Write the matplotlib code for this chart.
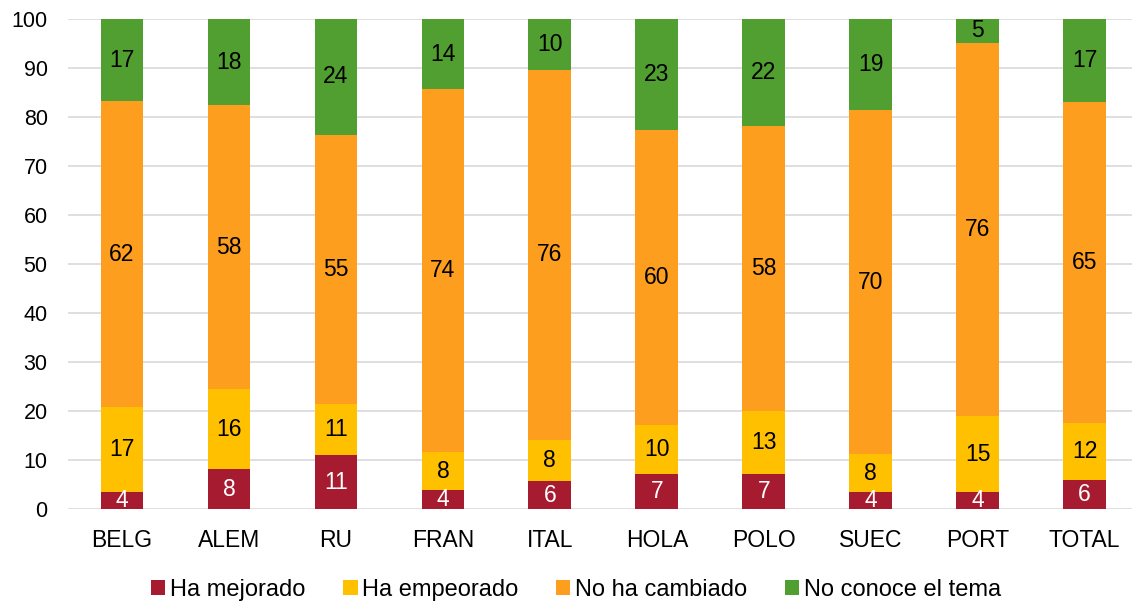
import numpy as np
import matplotlib.pyplot as plt

plt.rcParams['font.family'] = ['Liberation Sans', 'DejaVu Sans']

# Percentages per country
countries = ['BELG', 'ALEM', 'RU', 'FRAN', 'ITAL', 'HOLA', 'POLO', 'SUEC', 'PORT', 'TOTAL']
mejorado = [3.6, 8.2, 11.0, 3.9, 5.8, 7.3, 7.3, 3.6, 3.6, 6.0]
empeorado = [17.2, 16.3, 10.6, 7.8, 8.3, 9.9, 12.8, 7.6, 15.4, 11.7]
no_cambiado = [62.4, 57.9, 54.8, 74.0, 75.6, 60.1, 58.2, 70.2, 76.2, 65.4]
no_conoce = [16.8, 17.6, 23.6, 14.3, 10.3, 22.7, 21.7, 18.6, 4.8, 16.9]

series = [
    ('Ha mejorado', mejorado, '#A61B2F', 'white'),
    ('Ha empeorado', empeorado, '#FFC000', 'black'),
    ('No ha cambiado', no_cambiado, '#FD9E1E', 'black'),
    ('No conoce el tema', no_conoce, '#519E31', 'black'),
]

fig = plt.figure(figsize=(11.32, 6.05), dpi=100)
ax = fig.add_axes([0.0605, 0.158, 0.945, 0.8104])

x = np.arange(len(countries))
bottom = np.zeros(len(countries))
for name, vals, color, tcolor in series:
    vals = np.array(vals)
    ax.bar(x, vals, width=0.4, bottom=bottom, color=color, label=name, zorder=2)
    for xi, b, v in zip(x, bottom, vals):
        ax.text(xi, b + v / 2, '%.0f' % v, ha='center', va='center',
                fontsize=16.5, color=tcolor, zorder=3)
    bottom += vals

ax.set_xlim(-0.5, len(countries) - 0.5)
ax.set_ylim(0, 100)
ax.set_yticks(np.arange(0, 101, 10))
ax.set_xticks(x)
ax.set_xticklabels(countries)
ax.grid(axis='y', color='#D9D9D9', linewidth=1.2, zorder=0)
ax.set_axisbelow(True)
for s in ax.spines.values():
    s.set_visible(False)
ax.tick_params(axis='both', length=0)
ax.tick_params(axis='y', pad=15, labelsize=15.5)
ax.tick_params(axis='x', pad=14, labelsize=16.5)

fig.legend(loc='center', bbox_to_anchor=(0.509, 0.025), ncol=4, frameon=False,
           fontsize=17, handlelength=0.6, handleheight=0.6, handletextpad=0.2,
           columnspacing=1.6)

plt.savefig('out.png', dpi=100)
plt.close()
